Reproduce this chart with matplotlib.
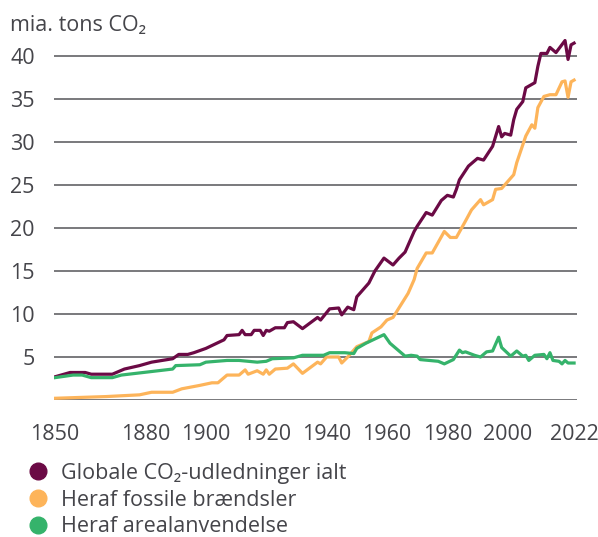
import matplotlib
matplotlib.use("Agg")
import matplotlib.pyplot as plt
from matplotlib.lines import Line2D

plt.rcParams["font.family"] = ["Open Sans", "DejaVu Sans"]

# -------------------------------------------------------------
# data
# -------------------------------------------------------------
years_total = [1850, 1855, 1860, 1862, 1869, 1873, 1878, 1882, 1889, 1891, 1894, 1896,
               1900, 1906, 1907, 1911, 1912, 1913, 1915, 1916, 1918, 1919, 1920, 1921,
               1923, 1926, 1927, 1929, 1932, 1937, 1938, 1941, 1944, 1945, 1947, 1949,
               1950, 1954, 1956, 1959, 1962, 1964, 1966, 1969, 1970, 1973, 1975, 1978,
               1980, 1982, 1983, 1984, 1987, 1990, 1992, 1995, 1997, 1998, 1999, 2001,
               2002, 2003, 2005, 2006, 2009, 2010, 2011, 2013, 2014, 2016, 2019, 2020,
               2021, 2022]
total = [2.7, 3.2, 3.2, 3.0, 3.0, 3.6, 4.0, 4.4, 4.8, 5.3, 5.3, 5.5,
         6.0, 7.0, 7.5, 7.6, 8.1, 7.6, 7.6, 8.1, 8.1, 7.5, 8.1, 8.0,
         8.4, 8.4, 9.0, 9.1, 8.3, 9.6, 9.3, 10.6, 10.7, 9.9, 10.8, 10.5,
         12.0, 13.6, 15.0, 16.5, 15.7, 16.5, 17.2, 19.6, 20.2, 21.8, 21.5, 23.2,
         23.8, 23.6, 24.5, 25.6, 27.2, 28.1, 27.9, 29.5, 31.8, 30.6, 31.0, 30.8,
         32.6, 33.8, 34.7, 36.3, 36.9, 38.8, 40.3, 40.3, 41.0, 40.4, 41.8, 39.6,
         41.3, 41.5]

years_fossil = [1850, 1867, 1878, 1882, 1889, 1892, 1898, 1902, 1904, 1907, 1911, 1913,
                1914, 1917, 1919, 1920, 1921, 1923, 1927, 1929, 1932, 1937, 1938, 1940,
                1944, 1945, 1947, 1950, 1954, 1955, 1958, 1960, 1962, 1967, 1969, 1970,
                1973, 1975, 1979, 1981, 1983, 1986, 1988, 1991, 1992, 1995, 1996, 1998,
                2000, 2002, 2003, 2006, 2008, 2009, 2010, 2012, 2014, 2016, 2018, 2019,
                2020, 2021, 2022]
fossil = [0.2, 0.4, 0.6, 0.9, 0.9, 1.3, 1.7, 2.0, 2.0, 2.9, 2.9, 3.5,
          3.0, 3.4, 3.0, 3.5, 3.0, 3.6, 3.7, 4.2, 3.1, 4.4, 4.2, 5.0,
          5.0, 4.3, 5.0, 6.2, 6.8, 7.8, 8.5, 9.3, 9.6, 12.4, 14.0, 15.3,
          17.1, 17.1, 19.6, 18.9, 18.9, 20.8, 22.1, 23.3, 22.7, 23.3, 24.5, 24.6,
          25.4, 26.2, 27.6, 30.7, 32.0, 31.6, 34.0, 35.3, 35.5, 35.5, 37.0, 37.1,
          35.2, 37.0, 37.2]

years_land = [1850, 1856, 1859, 1862, 1869, 1872, 1889, 1890, 1898, 1900, 1907, 1911,
              1917, 1920, 1922, 1929, 1932, 1939, 1941, 1946, 1949, 1950, 1953, 1956,
              1959, 1961, 1963, 1964, 1966, 1968, 1970, 1971, 1977, 1979, 1982, 1984,
              1985, 1986, 1989, 1991, 1993, 1995, 1997, 1998, 2001, 2003, 2005, 2006,
              2007, 2009, 2012, 2013, 2014, 2015, 2017, 2018, 2019, 2020, 2022]
land = [2.6, 2.9, 2.9, 2.6, 2.6, 2.9, 3.6, 4.0, 4.1, 4.4, 4.6, 4.6,
        4.4, 4.5, 4.8, 4.9, 5.2, 5.2, 5.5, 5.5, 5.4, 6.0, 6.6, 7.1,
        7.6, 6.6, 6.0, 5.7, 5.1, 5.2, 5.1, 4.7, 4.5, 4.2, 4.7, 5.8,
        5.5, 5.6, 5.2, 5.0, 5.6, 5.7, 7.3, 6.1, 5.1, 5.7, 5.1, 5.2,
        4.6, 5.2, 5.3, 4.8, 5.5, 4.6, 4.5, 4.2, 4.6, 4.3, 4.3]

labels = ["Globale CO₂-udledninger ialt", "Heraf fossile brændsler", "Heraf arealanvendelse"]
colors = ["#6b0a45", "#fdb45a", "#35b36b"]

x_ticks = [1850, 1880, 1900, 1920, 1940, 1960, 1980, 2000, 2022]
y_ticks = [5, 10, 15, 20, 25, 30, 35, 40]

# -------------------------------------------------------------
# figur
# -------------------------------------------------------------
text_col = "#45454a"
fs = 15.5
fig = plt.figure(figsize=(5.98, 5.37), dpi=100)
ax = fig.add_axes([54.1 / 598, 137 / 537, 523 / 598, 0.6726])

for y in [0] + y_ticks:
    ax.axhline(y, color="#6e6e72", lw=1.3, zorder=1)

ax.plot(years_total, total, color=colors[0], lw=2.3, zorder=3)
ax.plot(years_fossil, fossil, color=colors[1], lw=2.3, zorder=3)
ax.plot(years_land, land, color=colors[2], lw=2.3, zorder=4)

ax.set_xlim(1849.7, 2023)
ax.set_ylim(0, 42)
ax.set_xticks(x_ticks)
ax.set_yticks(y_ticks)
ax.tick_params(length=0, labelsize=fs, labelcolor=text_col)
ax.tick_params(axis="x", pad=17)
ax.tick_params(axis="y", pad=14)
for s in ax.spines.values():
    s.set_visible(False)

fig.text(10 / 598, 1 - 26 / 537, "mia. tons CO₂", fontsize=fs, color=text_col,
         va="center", ha="left")

handles = [Line2D([], [], ls="none", marker="o", markersize=12, color=c) for c in colors]
fig.legend(handles, labels, loc="upper left", bbox_to_anchor=(25 / 598, 1 - 463 / 537),
           frameon=False, fontsize=fs, labelcolor=text_col, handletextpad=0.45,
           labelspacing=0.26, borderaxespad=0, borderpad=0, handlelength=1.2)

fig.savefig("out.png", dpi=100)
